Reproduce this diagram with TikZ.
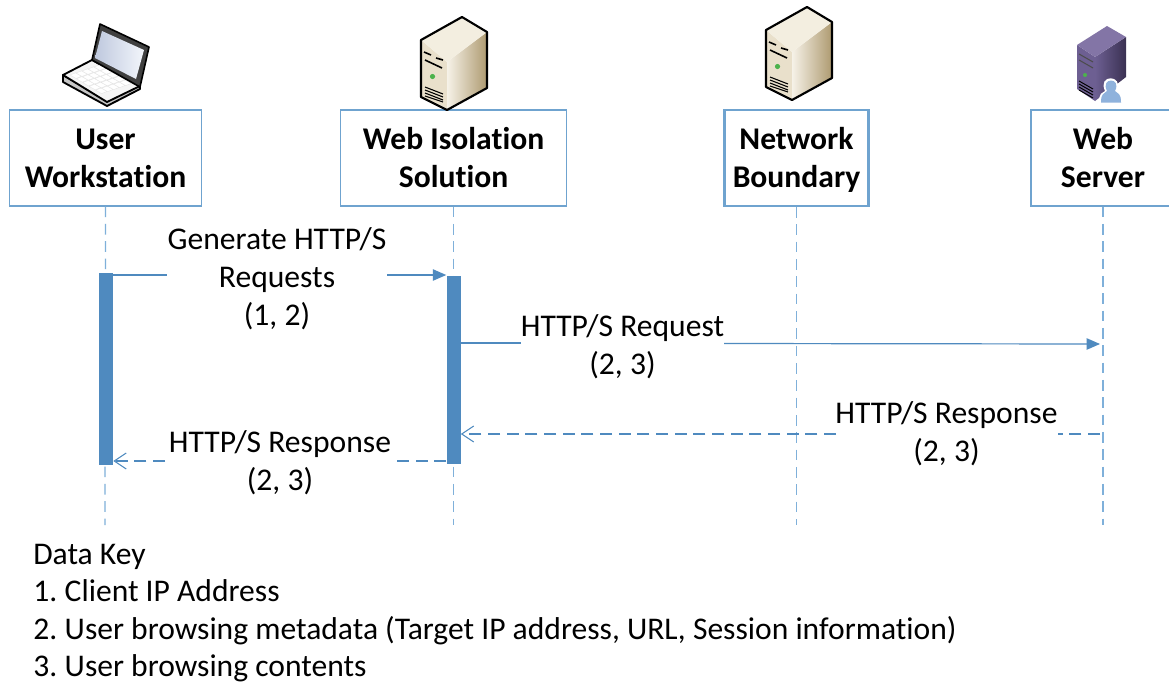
\documentclass[tikz,border=0pt]{standalone}
\usepackage{fontspec}
\setmainfont[Ligatures=NoCommon]{Carlito}
\usetikzlibrary{arrows.meta}
\definecolor{ln}{HTML}{4F8ABF}
\definecolor{bx}{HTML}{6FA3CF}
\definecolor{lifec}{HTML}{7FB0DA}
\definecolor{srvA}{HTML}{E9E0CB}
\definecolor{srvB}{HTML}{F6F2E8}
\definecolor{srvC}{HTML}{AE9A70}
\definecolor{srvT}{HTML}{F3EEE0}
\definecolor{purA}{HTML}{6D5F92}
\definecolor{purB}{HTML}{4B4068}
\definecolor{purC}{HTML}{3A3152}
\definecolor{purT}{HTML}{8375A6}
\definecolor{scrA}{HTML}{BFC9DE}
\definecolor{scrB}{HTML}{F2F5FB}
\definecolor{persA}{HTML}{8FB2DC}
\newcommand{\fstrut}{\rule{0pt}{24.5pt}}
\newcommand{\nsp}{\hspace{-1.5pt}}
\tikzset{
  x=0.75pt,y=-0.75pt,
  lifebox/.style={draw=bx,line width=0.8pt,fill=white,minimum width=#1*0.75pt,minimum height=72pt,align=center,font=\fontsize{23.7}{28.5}\selectfont\bfseries,inner sep=0pt},
  lifebox/.default=192,
  life/.style={draw=lifec,line width=0.9pt,dash pattern=on 8pt off 5pt},
  bar/.style={fill=ln,draw=none,minimum width=10.5pt,inner sep=0pt},
  msg/.style={draw=ln,line width=0.9pt},
  ret/.style={msg,dash pattern=on 9pt off 5pt},
  lbl/.style={font=\fontsize{23.7}{28.5}\selectfont,align=center,inner sep=0pt},
  key/.style={font=\fontsize{23.68}{28}\selectfont,anchor=base west,inner sep=0pt},
  solidtip/.style={-{Triangle[length=10pt,width=8.5pt]}},
  opentip/.style={-{Straight Barb[length=9pt,width=12pt,line width=0.8pt]}},
}
\newcommand{\serverico}[2]{%
\begin{scope}[shift={(#1,#2)}]
 \path[fill=srvA] (421,40)--(447,62)--(447,110)--(421,97)--cycle;
 \path[left color=srvB,right color=srvC] (447,62)--(487,32)--(487,88)--(447,110)--cycle;
 \path[fill=srvT] (421,40)--(462,17)--(487,32)--(447,62)--cycle;
 \draw[black,line width=1.6pt,line join=round] (421,40)--(462,17)--(487,32)--(487,88)--(447,110)--(421,97)--cycle;
 \draw[black,line width=1.2pt] (424,52)--(431,55) (436,58)--(443,60) (425,60)--(442,68);
 \fill[green!40!gray] (432.5,76.5) circle (2.6);
 \draw[black,line width=.8pt] (425,87)--(443,94) (425,90)--(443,97) (425,93)--(443,100) (425,96)--(443,102);
\end{scope}}
\begin{document}
\begin{tikzpicture}
\useasboundingbox (0,0) rectangle (1169,682);
\fill[white] (0,0) rectangle (1169,682);
% lifelines
\coordinate (l1e) at (105,525); \coordinate (l2e) at (453.5,525);
\coordinate (l3e) at (796.5,525); \coordinate (l4e) at (1103,525);
\node[lifebox=192] (u) at (105.5,158) {\fstrut User\strut\\Workstation\strut};
\node[lifebox=226] (w) at (453.5,158) {\fstrut Web Isolation\strut\\Solution\strut};
\node[lifebox=144,line width=1.6pt] (n) at (796.5,158) {\fstrut Network\strut\\Boundary\strut};
\node[lifebox=144] (s) at (1103,158) {\fstrut Web\strut\\Server\strut};
\draw[life] (u.south)--(l1e); \draw[life] (w.south)--(l2e);
\draw[life] (n.south)--(l3e); \draw[life] (s.south)--(l4e);
% bars
\node[bar,minimum height=144pt] (b1) at (106,368.5) {};
\node[bar,minimum height=141pt] (b2) at (453.5,369.5) {};
\coordinate (s3) at (1100,344); \coordinate (s4) at (1100,434);
% messages
\node[lbl] (m1) at (277,280) {Generate HTTP/S\strut\\Requests\strut\\(1, 2)\strut};
\node[lbl] (m2) at (622.5,348) {HTTP/S Request\strut\\(2, 3)\strut};
\node[lbl] (m3) at (946.5,435) {HTTP/S Response\strut\\(2, 3)\strut};
\node[lbl] (m4) at (280,464) {HTTP/S Response\strut\\(2, 3)\strut};
\draw[msg] (b1.east |- 0,275)--(167,275);
\draw[msg,solidtip] (387,275)--(b2.west |- 0,275);
\draw[msg] (b2.east |- 0,343)--(521,343);
\draw[msg,solidtip] (724,343.5)--(s3);
\draw[ret] (s4)--(1058,434);
\draw[ret,opentip] (836,434)--(b2.east |- 0,434);
\draw[ret] (b2.west |- 0,461)--(397,461);
\draw[ret,opentip] (165,461)--(b1.east |- 0,461);
% key
\node[key] (k0) at (33,564) {Data Key};
\node[key] (k1) at (33,601) {1.\nsp{} Client IP Address};
\node[key] (k2) at (33,639) {2.\nsp{} User browsing metadata (Target IP address, URL, Session information)};
\node[key] (k3) at (33,676) {3.\nsp{} User browsing contents};
% laptop
\path[fill=gray!45,draw=black,line width=1.4pt,line join=round] (63,75)--(63,82)--(107,106)--(140,89)--(140,85)--(107,100)--cycle;
\path[fill=gray!8,draw=black,line width=1.4pt,line join=round] (63,75)--(92,60)--(140,86)--(107,102)--cycle;
\foreach \a in {0,.2,.4,.6,.8}{\foreach \b in {0,.2,.4,.6,.8}{
 \fill[white,draw=gray!25,line width=.2pt] ({70+\a*32+\b*30},{75+\a*19-\b*10}) -- ++(6,3.4) -- ++(5.6,-2.2) -- ++(-6,-3.4) -- cycle;}}
\path[fill=black!75,draw=black,line width=1.2pt,line join=round] (100,24)--(149,47)--(140,87)--(92,60)--cycle;
\shade[left color=scrA,right color=scrB] (102,31)--(144,50)--(136,79)--(95,58)--cycle;
% servers
\serverico{0}{0}
\serverico{345}{-10}
% purple server
\path[fill=purA] (1077,45)--(1095,57)--(1095,101)--(1077,89)--cycle;
\path[left color=purA,right color=purC] (1095,57)--(1126,37)--(1126,77)--(1095,101)--cycle;
\path[fill=purT] (1077,45)--(1107,26)--(1126,37)--(1095,57)--cycle;
\draw[black!70,line width=.8pt] (1079,54)--(1093,62) (1079,60)--(1093,68);
\fill[green!40!gray] (1085,75) circle (2);
\draw[black,line width=.7pt] (1079,84)--(1093,92) (1079,87)--(1093,95) (1079,90)--(1093,98) (1079,81)--(1093,89);
\path[fill=white] (1099,104) .. controls (1099,92) and (1102,93) .. (1105,91) .. controls (1097,74) and (1124,74) .. (1117,91) .. controls (1120,93) and (1123,92) .. (1123,104)--cycle;
\path[fill=persA] (1101,102.5) .. controls (1101,93) and (1104,94) .. (1107,91) .. controls (1100,77) and (1122,77) .. (1115,91) .. controls (1118,94) and (1121,93) .. (1121,102.5)--cycle;
\end{tikzpicture}
\end{document}
